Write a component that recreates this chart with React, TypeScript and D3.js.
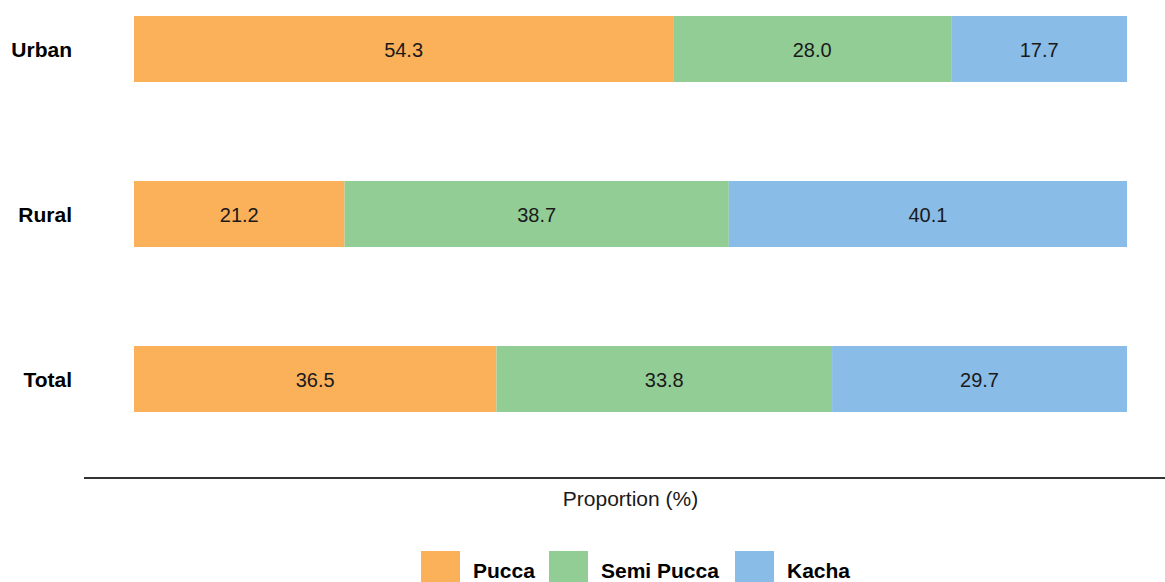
import React from "react";
import * as d3 from "d3";

const categories = ["Urban", "Rural", "Total"];
const seriesNames = ["Pucca", "Semi Pucca", "Kacha"];
const pucca = [54.3, 21.2, 36.5];
const semiPucca = [28.0, 38.7, 33.8];
const kacha = [17.7, 40.1, 29.7];
const colors = ["#FBB15A", "#93CD96", "#89BCE6"];
const xLabel = "Proportion (%)";

const W = 1165;
const H = 582;
const FONT = "'Liberation Sans', Arial, Helvetica, sans-serif";

export default function App() {
  const rows = categories.map((c, i) => ({
    cat: c,
    Pucca: pucca[i],
    "Semi Pucca": semiPucca[i],
    Kacha: kacha[i],
  }));
  const stacked = d3.stack<any>().keys(seriesNames)(rows);
  const x = d3.scaleLinear().domain([0, 100]).range([134, 1127]);
  const y = d3
    .scaleBand<string>()
    .domain(categories)
    .range([-50, 478])
    .paddingInner(0.6)
    .paddingOuter(0.4);
  const color = d3.scaleOrdinal<string, string>().domain(seriesNames).range(colors);

  const legendItems = [
    { name: "Pucca", sx: 421, tx: 473 },
    { name: "Semi Pucca", sx: 549, tx: 601 },
    { name: "Kacha", sx: 735, tx: 787 },
  ];

  return (
    <svg
      width={W}
      height={H}
      style={{ position: "absolute", left: 0, top: 0, background: "#fff" }}
      fontFamily={FONT}
    >
      {stacked.map((s) => (
        <g key={s.key} fill={color(s.key)}>
          {s.map((d, i) => (
            <rect
              key={i}
              x={x(d[0])}
              y={y(categories[i])}
              width={x(d[1]) - x(d[0])}
              height={y.bandwidth()}
            />
          ))}
        </g>
      ))}
      {stacked.map((s) => (
        <g key={s.key + "-lab"}>
          {s.map((d, i) => (
            <text
              key={i}
              x={(x(d[0]) + x(d[1])) / 2}
              y={(y(categories[i]) as number) + y.bandwidth() / 2 + 1}
              dy="0.35em"
              textAnchor="middle"
              fontSize={20}
              fill="#1a1a1a"
            >
              {(d[1] - d[0]).toFixed(1)}
            </text>
          ))}
        </g>
      ))}
      {categories.map((c) => (
        <text
          key={c}
          x={72}
          y={(y(c) as number) + y.bandwidth() / 2 + 1}
          dy="0.35em"
          textAnchor="end"
          fontSize={21}
          fontWeight="bold"
          fill="#000"
        >
          {c}
        </text>
      ))}
      <line x1={84} x2={W} y1={478} y2={478} stroke="#333" strokeWidth={2} />
      <text x={630.5} y={506} textAnchor="middle" fontSize={21} fill="#1a1a1a">
        {xLabel}
      </text>
      {legendItems.map((l) => (
        <g key={l.name}>
          <rect x={l.sx} y={551} width={39} height={39} fill={color(l.name)} />
          <text x={l.tx} y={578} fontSize={21} fontWeight="bold" fill="#000">
            {l.name}
          </text>
        </g>
      ))}
    </svg>
  );
}
